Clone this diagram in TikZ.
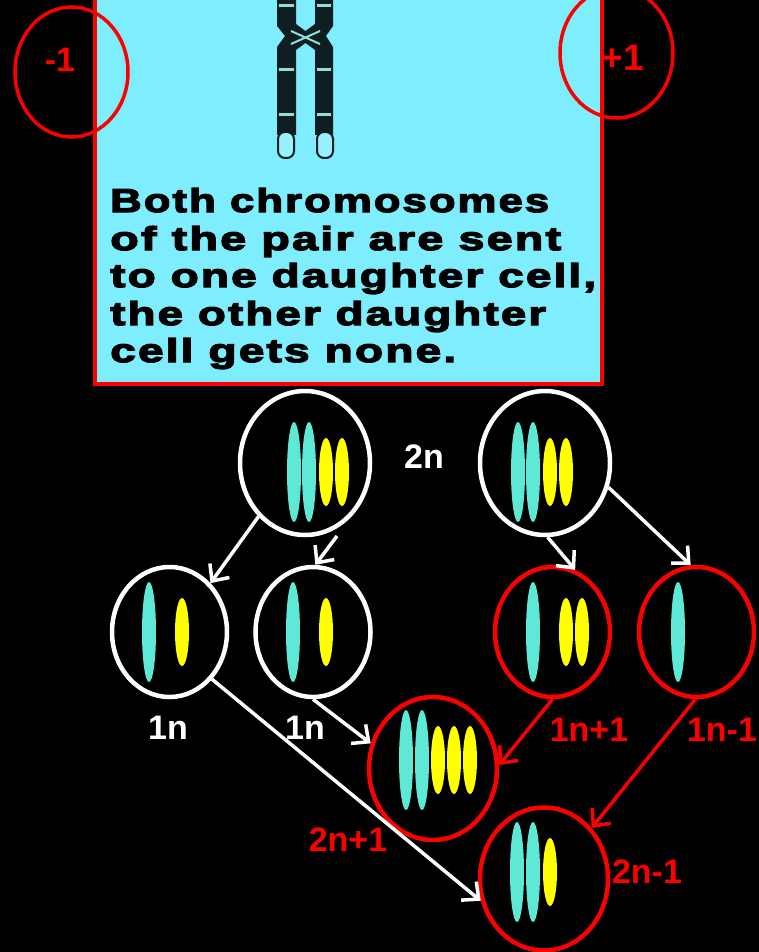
\documentclass[tikz,border=0pt]{standalone}
\usepackage{graphicx}
\usepackage{fontspec}
\setmainfont{Liberation Sans}
\newfontfamily\capfont{Liberation Sans Bold}[FakeStretch=1.3,LetterSpace=6,FakeBold=4]
\usetikzlibrary{arrows.meta,shapes.geometric}
\definecolor{boxcyan}{RGB}{126,238,255}
\definecolor{chromcyan}{RGB}{96,232,214}
\definecolor{chromyel}{RGB}{255,255,0}
\definecolor{redline}{RGB}{252,0,0}
\definecolor{chromdark}{RGB}{14,30,34}
\definecolor{bandlight}{RGB}{150,222,214}
\newcommand{\capfit}[2]{\resizebox{#1pt}{\height}{#2}}
\tikzset{
  cellbig/.style={ellipse, draw=#1, line width=4.5pt, inner sep=0pt, minimum width=130pt, minimum height=144pt},
  cellsmall/.style={ellipse, draw=#1, line width=4.5pt, inner sep=0pt, minimum width=115pt, minimum height=130pt},
  cellmid/.style={ellipse, draw=#1, line width=4.5pt, inner sep=0pt, minimum width=128pt, minimum height=143pt},
  lbl/.style={font=\fontsize{34}{40}\selectfont\bfseries, text=#1, inner sep=0pt},
  conn/.style={draw=#1, line width=3.5pt, -{Straight Barb[length=13pt,width=24pt]}},
  capline/.style={anchor=base west, inner sep=0pt, font=\fontsize{33}{38}\capfont, text=black},
  chc/.style={fill=chromcyan},
  chy/.style={fill=chromyel},
}
\begin{document}
\begin{tikzpicture}[x=1pt,y=-1pt]
\useasboundingbox (0,0) rectangle (759,952);
\clip (0,0) rectangle (759,952);
\fill[black] (0,0) rectangle (759,952);

% caption panel
\filldraw[fill=boxcyan, draw=redline, line width=4pt] (95,-20) rectangle (602,384);

% metaphase chromosome sketch
\fill[chromdark] (277,-5) -- (296,-5) -- (296,24) -- (305.5,31) -- (315,24) -- (315,-5)
  -- (333,-5) -- (333,26) -- (326,36) -- (333,47) -- (333,135) -- (315,135) -- (315,50)
  -- (305.5,43) -- (296,50) -- (296,135) -- (277,135) -- (277,47) -- (285,36) -- (277,26) -- cycle;
\draw[bandlight, line width=2pt] (291,31) -- (320,44) (291,44) -- (320,31);
\draw[bandlight, line width=3pt]
  (279,6) -- (294,6) (317,6) -- (331,6)
  (279,70) -- (294,70) (317,70) -- (331,70)
  (279,115) -- (294,115) (317,115) -- (331,115);
\filldraw[fill=boxcyan!80!white, draw=chromdark, line width=2pt, rounded corners=7pt]
  (278,132) rectangle (294,158) (317,132) rectangle (333,158);

% caption text
\node[capline] (t1) at (110,212) {\capfit{439}{Both chromosomes}};
\node[capline] (t2) at (110,250) {\capfit{451}{of the pair are sent}};
\node[capline] (t3) at (110,287) {\capfit{486}{to one daughter cell,}};
\node[capline] (t4) at (110,325) {\capfit{436}{the other daughter}};
\node[capline] (t5) at (110,362) {\capfit{346}{cell gets none.}};

% -1 / +1 markers
\draw[redline, line width=3.5pt] (71.5,72) ellipse (56.5pt and 65pt);
\draw[redline, line width=3.5pt] (616.5,53) ellipse (56.5pt and 65pt);
\node[lbl=redline] (minus) at (60,60) {-1};
\node[lbl=redline, font=\fontsize{37}{42}\selectfont\bfseries] (plus) at (623,58) {+1};

% cells
\node[cellbig=white] (pL) at (305,463) {};
\node[cellbig=white] (pR) at (545,463) {};
\node[cellsmall=white] (A) at (169.5,632) {};
\node[cellsmall=white] (B) at (313,632) {};
\node[cellsmall=redline] (C) at (552.5,632) {};
\node[cellsmall=redline] (D) at (696.5,632) {};
\node[cellmid=redline] (E) at (433,768.5) {};
\node[cellmid=redline] (F) at (544,879) {};

% chromosomes inside the cells
\fill[chc] (294,472) ellipse (7pt and 50pt) (309,472) ellipse (7pt and 50pt);
\fill[chy] (326,472) ellipse (7pt and 34pt) (342,472) ellipse (7pt and 34pt);
\fill[chc] (518,472) ellipse (7pt and 50pt) (533,472) ellipse (7pt and 50pt);
\fill[chy] (550,472) ellipse (7pt and 34pt) (566,472) ellipse (7pt and 34pt);
\fill[chc] (149,632) ellipse (7pt and 50pt);
\fill[chy] (182,632) ellipse (7pt and 34pt);
\fill[chc] (293,632) ellipse (7pt and 50pt);
\fill[chy] (326,632) ellipse (7pt and 34pt);
\fill[chc] (533,632) ellipse (7pt and 50pt);
\fill[chy] (566,632) ellipse (7pt and 34pt) (582,632) ellipse (7pt and 34pt);
\fill[chc] (678,632) ellipse (7pt and 50pt);
\fill[chc] (406,760) ellipse (7pt and 50pt) (422,760) ellipse (7pt and 50pt);
\fill[chy] (438,760) ellipse (7pt and 34pt) (454,760) ellipse (7pt and 34pt) (470,760) ellipse (7pt and 34pt);
\fill[chc] (517,872) ellipse (7pt and 50pt) (533,872) ellipse (7pt and 50pt);
\fill[chy] (550,872) ellipse (7pt and 34pt);

% labels
\node[lbl=white] (l2n) at (424,457) {2n};
\node[lbl=white] (l1a) at (168,728) {1n};
\node[lbl=white] (l1b) at (305,728) {1n};
\node[lbl=redline] (lp) at (589,730) {1n+1};
\node[lbl=redline] (lm) at (722,730) {1n-1};
\node[lbl=redline] (l2p) at (348,840) {2n+1};
\node[lbl=redline] (l2m) at (647,872) {2n-1};

% connectors
\coordinate (pLout) at (337,536);
\draw[conn=white] (pL.229) -- (A.50);
\draw[conn=white] (pLout) -- (B.88);
\draw[conn=white] (pR.-88) -- (C.70);
\draw[conn=white] (pR.-21.6) -- (D.95.6);
\draw[conn=white] (A.-48) -- (F.199.8);
\draw[conn=white] (B.-90) -- (E.158.6);
\draw[conn=redline] (C.-90) -- (E.3);
\draw[conn=redline] (D.-91) -- (F.47.3);
\end{tikzpicture}
\end{document}
